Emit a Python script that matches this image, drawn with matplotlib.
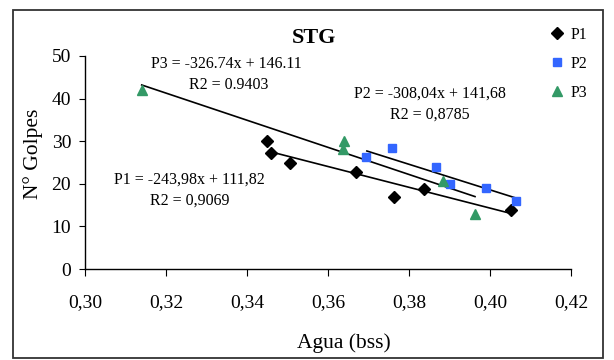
import numpy as np
import matplotlib
matplotlib.use('Agg')
from matplotlib import pyplot as plt
from matplotlib.patches import Rectangle

plt.rcParams['font.family'] = ['Liberation Serif', 'DejaVu Serif']

# data
p1_x = [0.3449, 0.3459, 0.3507, 0.3669, 0.3763, 0.3837, 0.4052]
p1_y = [30.1, 27.2, 24.8, 22.8, 17.0, 18.8, 13.8]
p2_x = [0.3693, 0.3759, 0.3867, 0.3900, 0.3990, 0.4064]
p2_y = [26.4, 28.3, 24.0, 20.0, 19.0, 16.0]
p3_x = [0.3140, 0.3640, 0.3636, 0.3885, 0.3963]
p3_y = [42.0, 30.1, 28.1, 20.7, 12.9]

# trend line end points
t1_x = [0.3459, 0.4049]
t1_y = [27.5, 13.1]
t2_x = [0.3696, 0.4066]
t2_y = [27.7, 16.6]
t3_x = [0.3140, 0.3963]
t3_y = [43.2, 17.0]

eq1 = ['P1 = -243,98x + 111,82', 'R2 = 0,9069']
eq2 = ['P2 = -308,04x + 141,68', 'R2 = 0,8785']
eq3 = ['P3 = -326.74x + 146.11', 'R2 = 0.9403']

xticks = [0.30, 0.32, 0.34, 0.36, 0.38, 0.40, 0.42]
yticks = [0, 10, 20, 30, 40, 50]

blue = '#3366ff'
green = '#339966'

fig = plt.figure(figsize=(6.14, 3.6), dpi=100)
W, H = 614, 360
ax = fig.add_axes([85 / W, 1 - 269 / H, (571 - 85) / W, (269 - 56) / H])

ax.plot(p1_x, p1_y, 'D', color='black', ms=6.5, label='P1', zorder=3)
ax.plot(p2_x, p2_y, 's', color=blue, ms=5.5, label='P2', zorder=3)
ax.plot(p3_x, p3_y, '^', color=green, ms=7, label='P3', zorder=3)

for tx, ty in [(t1_x, t1_y), (t2_x, t2_y), (t3_x, t3_y)]:
    ax.plot(tx, ty, color='black', lw=1.2, zorder=2)

ax.text(0.3258, 20.9, eq1[0], ha='center', va='center', fontsize=11.5)
ax.text(0.3258, 16.0, eq1[1], ha='center', va='center', fontsize=11.5)
ax.text(0.3852, 41.1, eq2[0], ha='center', va='center', fontsize=11.5)
ax.text(0.3852, 36.2, eq2[1], ha='center', va='center', fontsize=11.5)
ax.text(0.3350, 48.1, eq3[0], ha='center', va='center', fontsize=11.5)
ax.text(0.3354, 43.2, eq3[1], ha='center', va='center', fontsize=11.5)

ax.set_xlim(0.30, 0.42)
ax.set_ylim(0, 50)
ax.set_xticks(xticks)
ax.set_xticklabels([('%.2f' % v).replace('.', ',') for v in xticks])
ax.set_yticks(yticks)
ax.tick_params(axis='x', direction='out', length=5, pad=13, labelsize=14)
ax.tick_params(axis='y', direction='out', length=4, pad=6, labelsize=14)
for s in ['top', 'right']:
    ax.spines[s].set_visible(False)
for s in ['left', 'bottom']:
    ax.spines[s].set_linewidth(1.0)

fig.text(33 / W, 1 - 154 / H, 'N° Golpes', rotation=90, ha='center', va='center', fontsize=15.5)
fig.text(344 / W, 1 - 343 / H, 'Agua (bss)', ha='center', va='center', fontsize=15.5)
fig.text(314 / W, 1 - 38 / H, 'STG', ha='center', va='center', fontsize=16, fontweight='bold')

fig.legend(loc='upper left', bbox_to_anchor=(551 / W, 1 - 27 / H), frameon=False,
           fontsize=11.5, handlelength=0.8, handletextpad=0.4, labelspacing=0.8,
           borderpad=0, borderaxespad=0)

fig.patches.append(Rectangle((13 / W, 1 - 358 / H), (603 - 13) / W, (358 - 10) / H,
                             transform=fig.transFigure, fill=False, edgecolor='#333333', lw=1.3))

fig.savefig('out.png', dpi=100)
